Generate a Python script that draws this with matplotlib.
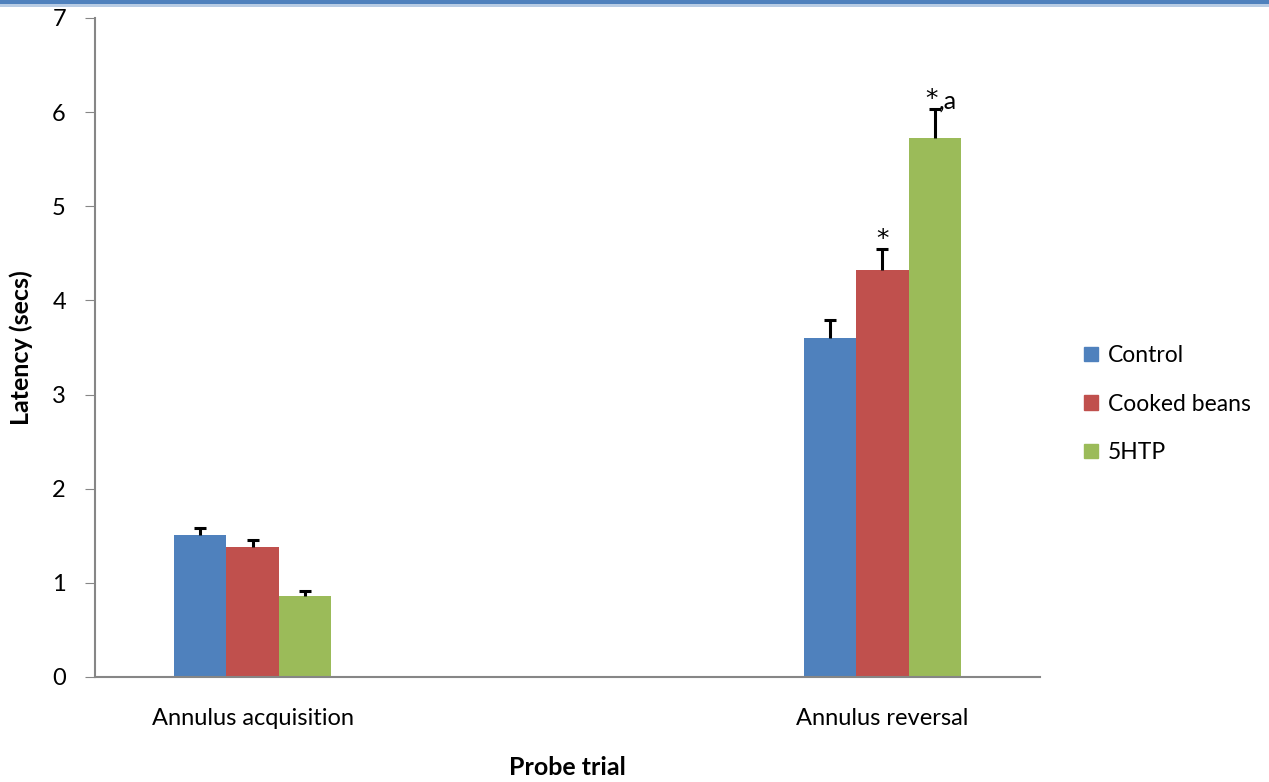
import numpy as np
import matplotlib.pyplot as plt
from matplotlib.patches import Patch, Rectangle

categories = ["Annulus acquisition", "Annulus reversal"]
groups = ["Control", "Cooked beans", "5HTP"]
means = {
    "Control": [1.51, 3.60],
    "Cooked beans": [1.38, 4.32],
    "5HTP": [0.86, 5.72],
}
errors = {
    "Control": [0.07, 0.19],
    "Cooked beans": [0.07, 0.23],
    "5HTP": [0.05, 0.31],
}
colors = ["#4F81BD", "#C0504D", "#9BBB59"]

plt.rcParams['font.family'] = ['Lato', 'DejaVu Sans']

fig = plt.figure(figsize=(12.69, 7.82), dpi=100)
ax = fig.add_axes([0.0749, 0.1343, 0.7446, 0.8427])

# decorative header line
fig.add_artist(Rectangle((0, 0.9945), 1, 0.0055, transform=fig.transFigure, color="#4F81BD", lw=0))
fig.add_artist(Rectangle((0, 0.991), 1, 0.0035, transform=fig.transFigure, color="#B8CCE4", lw=0))

x = np.arange(len(categories))
w = 0.0833
cap = 0.0095
for i, g in enumerate(groups):
    pos = x + (i - 1) * w
    m = np.array(means[g])
    e = np.array(errors[g])
    ax.bar(pos, m, width=w, color=colors[i], label=g)
    # plus-only error bars
    ax.vlines(pos, m, m + e, color="black", lw=2.2)
    ax.hlines(m + e, pos - cap, pos + cap, color="black", lw=2.2)

# significance marks
ax.text(x[1], means["Cooked beans"][1] + errors["Cooked beans"][1] - 0.02, "*",
        ha="center", va="bottom", fontsize=18, family="DejaVu Sans")
ax.text(x[1] + w - 0.006, means["5HTP"][1] + errors["5HTP"][1] - 0.02, "*",
        ha="center", va="bottom", fontsize=18, family="DejaVu Sans")
ax.text(x[1] + w + 0.006, means["5HTP"][1] + errors["5HTP"][1] - 0.04, ",a",
        ha="left", va="bottom", fontsize=18)

ax.set_xlim(-0.25, 1.25)
ax.set_ylim(0, 7)
ax.set_yticks(range(0, 8))
ax.set_xticks(x)
ax.set_xticklabels(categories, fontsize=17)
ax.tick_params(axis="y", labelsize=17, length=7, color="#868686", pad=14)
ax.tick_params(axis="x", length=0, pad=22)
for s in ["top", "right"]:
    ax.spines[s].set_visible(False)
for s in ["left", "bottom"]:
    ax.spines[s].set_color("#868686")
    ax.spines[s].set_linewidth(1.5)

ax.set_ylabel("Latency (secs)", fontsize=18, fontweight="bold", labelpad=14)
ax.set_xlabel("Probe trial", fontsize=18, fontweight="bold", labelpad=20)

handles = [Patch(color=c) for c in colors]
fig.legend(handles, groups, loc="center left", bbox_to_anchor=(0.838, 0.483),
           frameon=False, fontsize=16.5, handlelength=0.6, handleheight=0.6,
           handletextpad=0.45, labelspacing=1.2)

fig.savefig("out.png", dpi=100)
